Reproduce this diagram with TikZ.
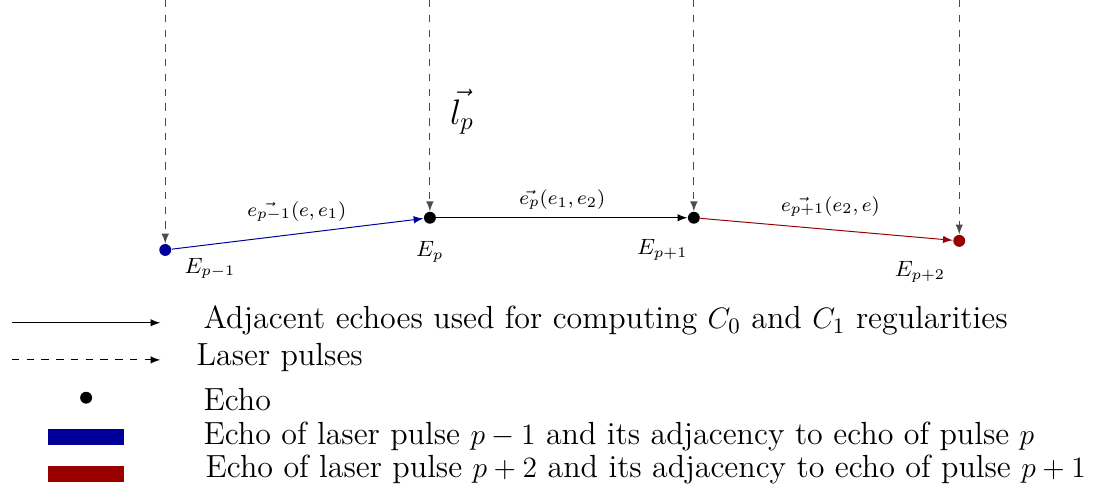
\documentclass[tikz,border=0pt]{standalone}
\usepackage{amsmath,amssymb}
\usepackage{xcolor}
\usepackage{tikz}
\usetikzlibrary{arrows}
\definecolor{echoblue}{RGB}{0,0,153}
\definecolor{echored}{RGB}{153,0,0}

\begin{document}
\begin{tikzpicture}[
  echo/.style={circle,fill=#1,inner sep=0pt,minimum size=0.17cm},
  echo/.default=black,
  pulse/.style={dashed,-latex,gray!60!black},
  adjacent/.style={-latex,#1},
  adjacent/.default=black,
  elabel/.style={font=\footnotesize},
  plabel/.style={font=\small},
  legtext/.style={anchor=west,inner sep=0pt,font=\fontsize{13}{16}\selectfont},
  legbar/.style={fill=#1,inner sep=0pt,minimum width=1.08cm,minimum height=0.23cm}]
\useasboundingbox (0,0) rectangle (15.81,7.04);
\node[echo=echoblue] (Epm) at (2.36,3.47) {};
\node[echo] (Ep) at (6.14,3.93) {};
\node[echo] (Epp) at (9.91,3.93) {};
\node[echo=echored] (Eppp) at (13.70,3.60) {};
\coordinate (tpm) at (2.36,7.04);
\coordinate (tp) at (6.14,7.04);
\coordinate (tpp) at (9.91,7.04);
\coordinate (tppp) at (13.70,7.04);
\draw[pulse] (tpm) -- (Epm);
\draw[pulse] (tp) -- (Ep);
\draw[pulse] (tpp) -- (Epp);
\draw[pulse] (tppp) -- (Eppp);
\draw[adjacent=echoblue] (Epm) -- (Ep);
\draw[adjacent] (Ep) -- (Epp);
\draw[adjacent=echored] (Epp) -- (Eppp);
\node[plabel] (lEpm) at (3.00,3.21) {$E_{p-1}$};
\node[plabel] (lEp) at (6.14,3.44) {$E_p$};
\node[plabel] (lEpp) at (9.46,3.47) {$E_{p+1}$};
\node[plabel] (lEppp) at (13.14,3.16) {$E_{p+2}$};
\node[elabel] (epm) at (4.24,4.02) {$\vec{e_{p-1}}(e,e_1)$};
\node[elabel] (ep) at (8.03,4.19) {$\vec{e_p}(e_1,e_2)$};
\node[elabel] (epp) at (11.86,4.09) {$\vec{e_{p+1}}(e_2,e)$};
\node[font=\Large] (lp) at (6.60,5.44) {$\vec{l_p}$};

\coordinate (sa) at (0.17,2.43);
\coordinate (sb) at (2.29,2.43);
\coordinate (da) at (0.17,1.90);
\coordinate (db) at (2.29,1.90);
\draw[-latex] (sa) -- (sb);
\draw[dashed,-latex] (da) -- (db);
\node[echo] (legecho) at (1.23,1.36) {};
\node[legbar=echoblue] (legblue) at (1.23,0.80) {};
\node[legbar=echored] (legred) at (1.23,0.27) {};
\node[legtext] (t1) at (2.90,2.46) {Adjacent echoes used for computing $C_0$ and $C_1$ regularities};
\node[legtext] (t2) at (2.80,1.94) {Laser pulses};
\node[legtext] (t3) at (2.90,1.33) {Echo};
\node[legtext] (t4) at (2.90,0.81) {Echo of laser pulse $p-1$ and its adjacency to echo of pulse $p$};
\node[legtext] (t5) at (2.93,0.33) {Echo of laser pulse $p+2$ and its adjacency to echo of pulse $p+1$};
\end{tikzpicture}
\end{document}
